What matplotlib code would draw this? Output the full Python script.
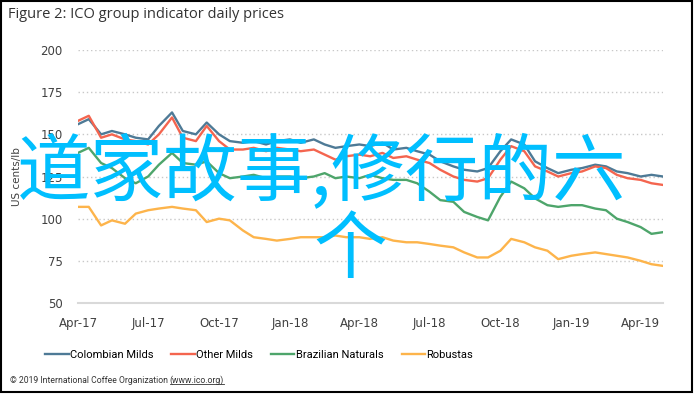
import matplotlib
matplotlib.use("Agg")
import matplotlib.pyplot as plt
import matplotlib.dates as mdates
import matplotlib.patches as patches
from matplotlib.lines import Line2D
import pandas as pd

# semi-monthly readings, Apr 2017 - end Apr 2019
dates = list(pd.date_range("2017-04-01", "2019-04-16", freq="SMS")) + [pd.Timestamp("2019-04-30")]

colombian = [156, 159, 150, 152, 150, 148, 147, 155, 163, 152,
             150, 157, 150, 146, 145, 146, 144, 146, 147, 145,
             147, 144, 142, 143, 144, 143, 145, 141, 142, 140,
             138, 134, 131, 129, 128, 130, 140, 147, 144, 134,
             130, 127, 129, 130, 132, 131, 128, 127, 125, 126, 125]
other_milds = [158, 161, 148, 150, 147, 146, 144, 150, 160, 148,
               146, 155, 146, 141, 141, 142, 140, 142, 141, 140,
               141, 138, 135, 137, 138, 137, 139, 136, 137, 135,
               133, 129, 125, 123, 122, 124, 135, 143, 140, 131,
               128, 125, 127, 128, 131, 130, 126, 124, 123, 121, 120]
brazilian = [139, 142, 133, 130, 124, 121, 125, 132, 139, 133,
             132, 134, 127, 124, 125, 126, 124, 125, 125, 124,
             125, 127, 124, 125, 124, 126, 124, 123, 123, 121,
             116, 111, 110, 104, 101, 99, 113, 122, 118, 112,
             108, 107, 108, 108, 106, 105, 100, 98, 95, 91, 92]
robustas = [107, 107, 96, 99, 97, 103, 105, 106, 107, 106,
            105, 98, 100, 99, 93, 89, 88, 87, 88, 89,
            89, 89, 90, 89, 89, 88, 89, 87, 86, 86,
            85, 84, 83, 80, 77, 77, 81, 88, 86, 83,
            81, 76, 78, 79, 80, 79, 78, 77, 75, 73, 72]

series_names = ["Colombian Milds", "Other Milds", "Brazilian Naturals", "Robustas"]
series_colors = ["#4E7A96", "#F4654F", "#4EA56B", "#FDB44B"]
y_ticks = [50, 75, 100, 125, 150, 175, 200]

fig = plt.figure(figsize=(6.95, 3.94), dpi=100)
ax = fig.add_axes([0.1122, 0.231, 0.8418, 0.642])

for vals, name, col in zip([colombian, other_milds, brazilian, robustas], series_names, series_colors):
    ax.plot(dates, vals, color=col, lw=1.7, label=name)

ax.set_ylim(50, 200)
ax.set_xlim(pd.Timestamp("2017-04-01"), pd.Timestamp("2019-04-30"))
ax.set_yticks(y_ticks)
ax.xaxis.set_major_locator(mdates.MonthLocator(bymonth=[1, 4, 7, 10]))
ax.xaxis.set_major_formatter(mdates.DateFormatter("%b-%y"))
ax.grid(axis="y", linestyle=(0, (1, 2)), color="#C8C8C8", lw=1)
ax.set_axisbelow(True)
for s in ["left", "right", "top"]:
    ax.spines[s].set_visible(False)
ax.spines["bottom"].set_color("#D9D9D9")
ax.spines["bottom"].set_linewidth(1.5)
ax.tick_params(axis="y", length=0, pad=11, labelsize=8.5, labelcolor="#404040")
ax.tick_params(axis="x", length=0, pad=10, labelsize=8.5, labelcolor="#404040")
ax.set_ylabel("US cents/lb", fontsize=7.5, color="#404040", labelpad=13)

fig.text(0.0115, 0.962, "Figure 2: ICO group indicator daily prices", fontsize=10.5,
         family="Open Sans", color="#333333", va="center")

fig.legend(loc="center", bbox_to_anchor=(0.373, 0.099), ncol=4, frameon=False,
           handlelength=2.1, columnspacing=1.6, handletextpad=0.15,
           prop={"family": "Roboto", "size": 8})

font_cr = dict(fontsize=6.2, family="Roboto", color="#333333", va="center")
cr = fig.text(0.014, 0.035, "\u00a9 2019 International Coffee Organization ", **font_cr)
fig.canvas.draw()
bb = cr.get_window_extent()
url = fig.text(bb.x1 / 695, 0.035, "(www.ico.org)", **font_cr)
fig.canvas.draw()
ub = url.get_window_extent()
fig.add_artist(Line2D([ub.x0 / 695, ub.x1 / 695], [ub.y0 / 394 + 0.002] * 2,
                      transform=fig.transFigure, color="#333333", lw=0.6))

# overlay text
fig.text(0.463, 1 - 173 / 394, "道家故事,修行的六", fontsize=53, color="#00BFFF",
         family=["Noto Sans CJK SC", "DejaVu Sans"], ha="center", va="center")
fig.text(0.504, 1 - 251 / 394, "个", fontsize=53, color="#00BFFF",
         family=["Noto Sans CJK SC", "DejaVu Sans"], ha="center", va="center")

fig.add_artist(patches.Rectangle((0.002, 0.005), 0.9937, 0.992, transform=fig.transFigure,
                                 fill=False, edgecolor="black", lw=1.5))

fig.savefig("out.png", dpi=100)
